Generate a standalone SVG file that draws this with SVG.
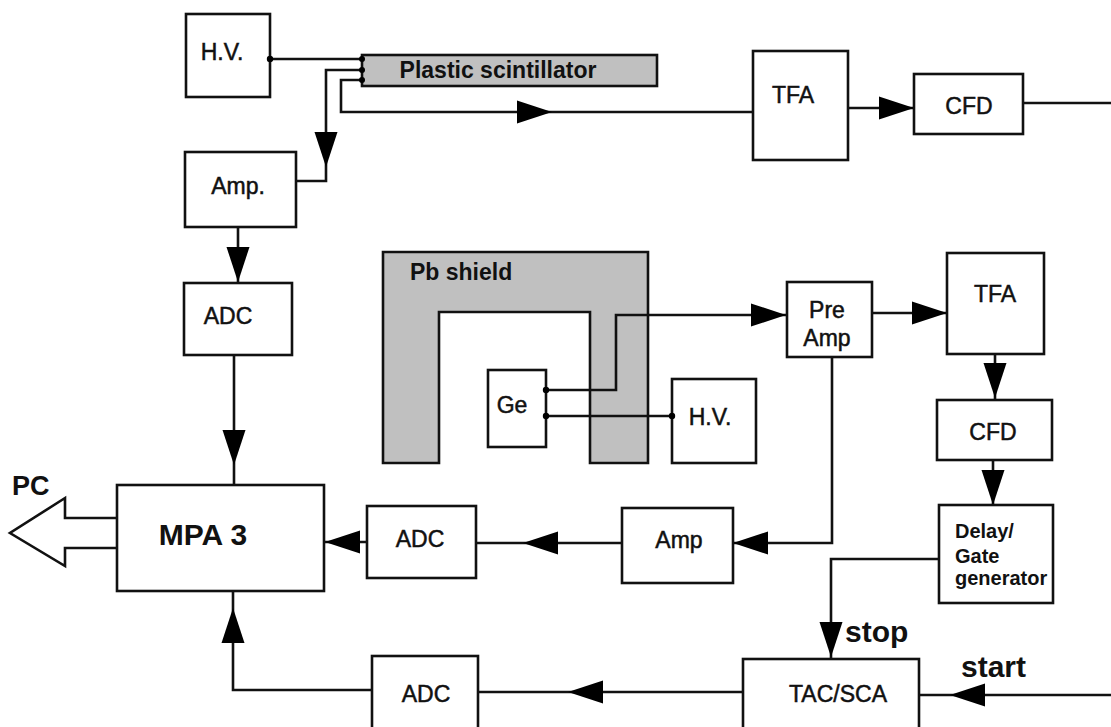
<svg xmlns="http://www.w3.org/2000/svg" xmlns:xlink="http://www.w3.org/1999/xlink" width="1111" height="727" viewBox="0 0 1111 727">
<style>
.box{fill:#fff;stroke:#111;stroke-width:2.6}
.gray{fill:#c0c0c0;stroke:#111;stroke-width:2.6}
.wire{fill:none;stroke:#111;stroke-width:2.6}
.ah{fill:#000}
.dot{fill:#000}
text{font-family:"Liberation Sans",Arial,sans-serif;fill:#111}
.lbl{font-size:23px;text-anchor:middle;stroke:#111;stroke-width:0.5}
.b{font-weight:bold;stroke:none}
</style>
<defs>
<path id="ah" d="M0,0 L-35,-11.5 L-35,11.5 Z"/>
</defs>
<rect width="1111" height="727" fill="#fff"/>

<g id="hv-top"><rect class="box" x="186" y="14" width="84" height="83"/><text class="lbl" x="222" y="60">H.V.</text></g>
<g id="scintillator"><rect class="gray" x="362" y="55" width="295" height="31"/><text class="lbl b" x="498" y="78">Plastic scintillator</text></g>
<g id="amp-top"><rect class="box" x="185" y="152" width="111" height="75"/><text class="lbl" x="238" y="194">Amp.</text></g>
<g id="adc-top"><rect class="box" x="184" y="283" width="108" height="72"/><text class="lbl" x="228" y="324">ADC</text></g>
<g id="tfa-top"><rect class="box" x="753" y="51" width="95" height="109"/><text class="lbl" x="793" y="103">TFA</text></g>
<g id="cfd-top"><rect class="box" x="914" y="74" width="109" height="60"/><text class="lbl" x="969" y="114">CFD</text></g>
<g id="pb-shield"><path class="gray" d="M383,252 H648 V463 H590 V312 H439 V463 H383 Z"/><text class="b" x="410" y="280" font-size="23">Pb shield</text></g>
<g id="ge"><rect class="box" x="488" y="370" width="58" height="77"/><text class="lbl" x="512" y="413">Ge</text></g>
<g id="hv-mid"><rect class="box" x="672" y="379" width="84" height="84"/><text class="lbl" x="710" y="425">H.V.</text></g>
<g id="preamp"><rect class="box" x="787" y="282" width="85" height="75"/><text class="lbl" x="827" y="318">Pre</text><text class="lbl" x="827" y="346">Amp</text></g>
<g id="tfa-mid"><rect class="box" x="947" y="253" width="97" height="101"/><text class="lbl" x="995" y="302">TFA</text></g>
<g id="cfd-mid"><rect class="box" x="937" y="400" width="115" height="60"/><text class="lbl" x="993" y="440">CFD</text></g>
<g id="delay"><rect class="box" x="939" y="505" width="114" height="98"/><text class="b" x="955" y="538" font-size="20">Delay/</text><text class="b" x="955" y="563" font-size="20">Gate</text><text class="b" x="955" y="585" font-size="20">generator</text></g>
<g id="mpa"><rect class="box" x="117" y="485" width="207" height="106"/><text class="b" x="203" y="545" font-size="30" text-anchor="middle">MPA 3</text></g>
<g id="pc"><polyline class="wire" points="117,518 65,518 65,498 10,533 65,566 65,548 117,548"/><text class="b" x="12" y="495" font-size="27">PC</text></g>
<g id="adc-mid"><rect class="box" x="367" y="506" width="109" height="72"/><text class="lbl" x="420" y="547">ADC</text></g>
<g id="amp-mid"><rect class="box" x="622" y="508" width="111" height="75"/><text class="lbl" x="679" y="548">Amp</text></g>
<g id="tac"><rect class="box" x="743" y="659" width="176" height="80"/><text class="lbl" x="838" y="702">TAC/SCA</text></g>
<g id="adc-bot"><rect class="box" x="372" y="656" width="106" height="80"/><text class="lbl" x="426" y="702">ADC</text></g>
<g id="labels"><text class="b" x="845" y="642" font-size="30">stop</text><text class="b" x="961" y="677" font-size="30">start</text></g>

<g id="connectors">
<path class="wire" d="M270,59 H362"/>
<path class="wire" d="M362,70 H326 V181 H296"/>
<path class="wire" d="M362,80 H341 V112 H753"/>
<path class="wire" d="M848,108 H914"/>
<path class="wire" d="M1023,103 H1111"/>
<path class="wire" d="M238,227 V283"/>
<path class="wire" d="M234,355 V485"/>
<path class="wire" d="M546,390 H616 V315 H787"/>
<path class="wire" d="M546,416 H672"/>
<path class="wire" d="M872,313 H947"/>
<path class="wire" d="M995,354 V400"/>
<path class="wire" d="M993,460 V505"/>
<path class="wire" d="M832,357 V543 H733"/>
<path class="wire" d="M622,543 H476"/>
<path class="wire" d="M367,542 H324"/>
<path class="wire" d="M939,559 H831 V659"/>
<path class="wire" d="M1111,695 H919"/>
<path class="wire" d="M743,692 H478"/>
<path class="wire" d="M372,690 H233 V591"/>
<circle class="dot" cx="270" cy="59" r="3.2"/>
<circle class="dot" cx="362" cy="59" r="3"/>
<circle class="dot" cx="362" cy="70" r="3"/>
<circle class="dot" cx="362" cy="80" r="3"/>
<circle class="dot" cx="546" cy="390" r="3.2"/>
<circle class="dot" cx="546" cy="416" r="3.2"/>
<circle class="dot" cx="672" cy="416" r="3.2"/>
<use class="ah" xlink:href="#ah" transform="translate(326,167) rotate(90)"/>
<use class="ah" xlink:href="#ah" transform="translate(552,112)"/>
<use class="ah" xlink:href="#ah" transform="translate(914,108)"/>
<use class="ah" xlink:href="#ah" transform="translate(238,282) rotate(90)"/>
<use class="ah" xlink:href="#ah" transform="translate(234,465) rotate(90)"/>
<use class="ah" xlink:href="#ah" transform="translate(786,315)"/>
<use class="ah" xlink:href="#ah" transform="translate(947,313)"/>
<use class="ah" xlink:href="#ah" transform="translate(995,398) rotate(90)"/>
<use class="ah" xlink:href="#ah" transform="translate(993,505) rotate(90)"/>
<use class="ah" xlink:href="#ah" transform="translate(733,543) rotate(180)"/>
<use class="ah" xlink:href="#ah" transform="translate(523,543) rotate(180)"/>
<use class="ah" xlink:href="#ah" transform="translate(325,542) rotate(180)"/>
<use class="ah" xlink:href="#ah" transform="translate(831,657) rotate(90)"/>
<use class="ah" xlink:href="#ah" transform="translate(950,695) rotate(180)"/>
<use class="ah" xlink:href="#ah" transform="translate(568,692) rotate(180)"/>
<use class="ah" xlink:href="#ah" transform="translate(233,608) rotate(-90)"/>
</g>
</svg>
